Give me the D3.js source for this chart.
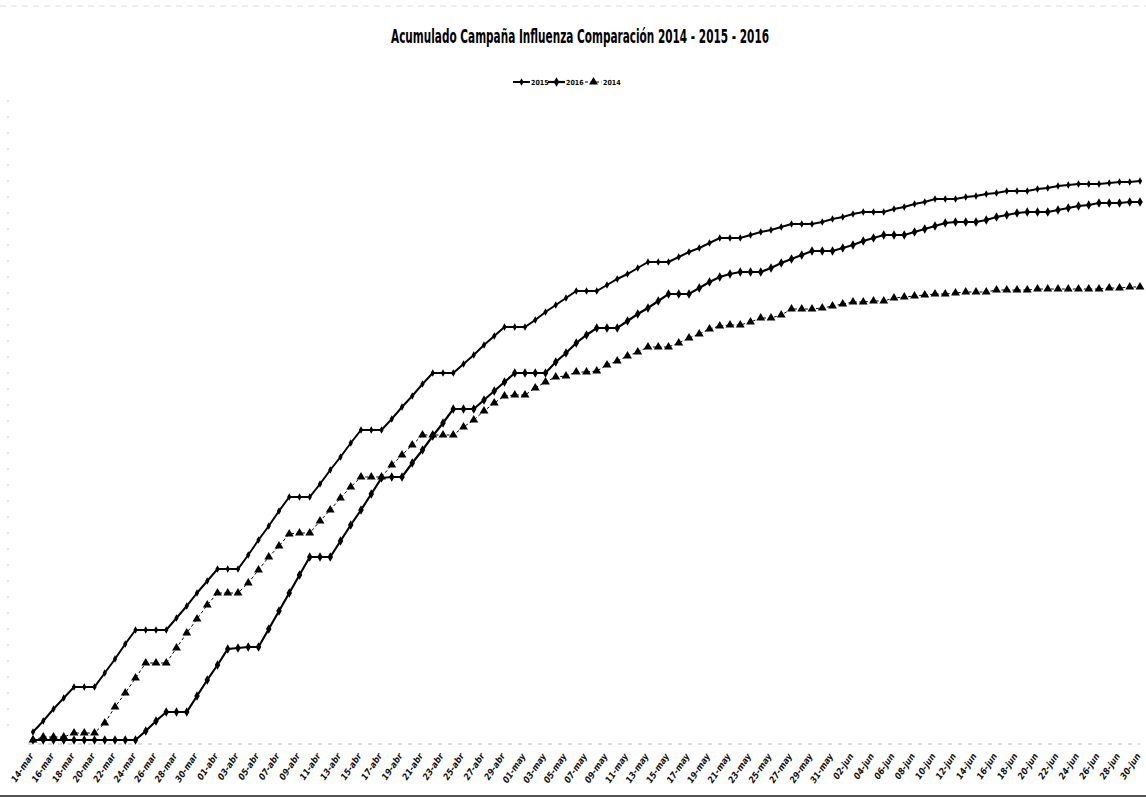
<!DOCTYPE html>
<html>
<head>
<meta charset="utf-8">
<script src="https://cdnjs.cloudflare.com/ajax/libs/d3/7.8.5/d3.min.js"></script>
<style>
  body { margin: 0; background: #fff; }
  svg { display: block; }
</style>
</head>
<body>
<div id="viz"></div>
<script>
// Acumulado diario, 14-mar a 30-jun (109 dias)
const serie2015 = [8, 19, 31, 42, 53, 53, 53, 67, 81, 96,
  110, 110, 110, 110, 122, 134, 147, 159, 171, 171,
  171, 185, 200, 214, 229, 243, 243, 243, 256, 270,
  283, 297, 310, 310, 310, 321, 333, 344, 356, 367,
  367, 367, 376, 385, 395, 404, 413, 413, 413, 420,
  428, 435, 442, 449, 449, 449, 455, 461, 466, 472,
  478, 478, 478, 483, 488, 492, 497, 502, 502, 502,
  505, 508, 510, 513, 516, 516, 516, 518, 521, 523,
  526, 528, 528, 528, 531, 533, 536, 538, 541, 541,
  541, 543, 544, 546, 547, 549, 549, 549, 551, 552,
  554, 555, 556, 556, 556, 557, 558, 558, 559];

const serie2016 = [0, 0, 0, 0, 0, 0, 0, 0, 0, 0,
  0, 9, 19, 28, 28, 28, 44, 60, 75, 91,
  92, 93, 93, 111, 129, 147, 165, 183, 183, 183,
  199, 215, 230, 246, 262, 263, 263, 277, 290, 304,
  317, 331, 331, 331, 340, 349, 358, 367, 367, 367,
  367, 378, 387, 397, 405, 412, 412, 412, 419, 426,
  432, 439, 446, 446, 446, 452, 458, 463, 466, 468,
  468, 468, 472, 477, 481, 485, 489, 489, 489, 492,
  495, 499, 502, 505, 505, 505, 508, 511, 514, 517,
  518, 518, 518, 520, 523, 525, 527, 528, 528, 528,
  530, 532, 534, 535, 537, 537, 537, 538, 538];

const serie2014 = [0, 3, 3, 3, 7, 7, 7, 17, 33, 47,
  62, 77, 77, 77, 92, 107, 121, 135, 147, 147,
  147, 157, 170, 183, 194, 206, 207, 207, 219, 230,
  242, 253, 263, 263, 263, 275, 285, 295, 305, 305,
  305, 305, 313, 320, 329, 337, 344, 345, 345, 352,
  358, 363, 364, 368, 368, 369, 375, 379, 384, 388,
  393, 393, 393, 397, 402, 406, 411, 414, 415, 415,
  418, 422, 422, 425, 431, 431, 431, 432, 434, 436,
  438, 438, 439, 439, 442, 443, 444, 445, 446, 446,
  447, 448, 448, 448, 450, 450, 450, 450, 451, 451,
  451, 451, 451, 451, 451, 452, 452, 453, 453];

// etiquetas del eje x, una cada 2 dias
const tickLabels = ["14-mar", "16-mar", "18-mar", "20-mar", "22-mar", "24-mar", "26-mar", "28-mar", "30-mar",
  "01-abr", "03-abr", "05-abr", "07-abr", "09-abr", "11-abr", "13-abr", "15-abr", "17-abr", "19-abr",
  "21-abr", "23-abr", "25-abr", "27-abr", "29-abr",
  "01-may", "03-may", "05-may", "07-may", "09-may", "11-may", "13-may", "15-may", "17-may", "19-may",
  "21-may", "23-may", "25-may", "27-may", "29-may", "31-may",
  "02-jun", "04-jun", "06-jun", "08-jun", "10-jun", "12-jun", "14-jun", "16-jun", "18-jun", "20-jun",
  "22-jun", "24-jun", "26-jun", "28-jun", "30-jun"];

const seriesNames = ["2015", "2016", "2014"];
const seriesData = [serie2015, serie2016, serie2014];

const w = 1146;
const h = 799;

const svg = d3.select('#viz').
append('svg').
attr('width', w).
attr('height', h);

const nDays = serie2015.length;

const x = d3.scaleLinear().
domain([0, nDays - 1]).
range([33, 1140]);

const y = d3.scaleLinear().
domain([0, 600]).
range([740, 140]);

// estilos por serie
const styles = {
  "2015": { width: 2, dash: null, symbol: d3.symbolDiamond, size: 16 },
  "2016": { width: 2.2, dash: null, symbol: d3.symbolDiamond, size: 26 },
  "2014": { width: 1, dash: "3,2.5", symbol: d3.symbolTriangle, size: 34 }
};

// marco tenue del fax
svg.append('line').
attr('x1', 0).attr('x2', w).
attr('y1', 6).attr('y2', 6).
style('stroke', '#ddd').
style('stroke-dasharray', '6,5').
style('stroke-width', 1);

svg.append('line').
attr('x1', 8).attr('x2', 8).
attr('y1', 100).attr('y2', 740).
style('stroke', '#ccc').
style('stroke-dasharray', '2,14').
style('stroke-width', 1);

svg.append('line').
attr('x1', 0).attr('x2', w).
attr('y1', 796).attr('y2', 796).
style('stroke', '#555').
style('stroke-width', 2);

// eje x: linea gris punteada y etiquetas inclinadas
svg.append('line').
attr('x1', x(0) - 5).attr('x2', x(nDays - 1)).
attr('y1', y(0) + 4).attr('y2', y(0) + 4).
style('stroke', '#bbb').
style('stroke-dasharray', '4,6').
style('stroke-width', 1);

const xAxis = svg.append('g').attr('class', 'x-labels');
xAxis.selectAll('text').
data(tickLabels).
enter().
append('text').
attr('transform', (d, i) => 'translate(' + (x(i * 2) + 1) + ',' + (y(0) + 16) + ') rotate(-56)').
attr('text-anchor', 'end').
style('font-family', '"Liberation Sans Narrow", "DejaVu Sans Condensed", sans-serif').
style('font-style', 'italic').
style('font-weight', 'bold').
style('font-size', '9px').
style('fill', '#111').
text(d => d);

// lineas
const line = d3.line().
x((d, i) => x(i)).
y(d => y(d));

seriesNames.forEach((name, k) => {
  const st = styles[name];
  const g = svg.append('g').attr('class', 'serie-' + name);
  g.append('path').
  datum(seriesData[k]).
  attr('d', line).
  style('fill', 'none').
  style('stroke', '#000').
  style('stroke-width', st.width).
  style('stroke-dasharray', st.dash);

  g.selectAll('path.marker').
  data(seriesData[k]).
  enter().
  append('path').
  attr('class', 'marker').
  attr('d', d3.symbol().type(st.symbol).size(st.size)).
  attr('transform', (d, i) => 'translate(' + x(i) + ',' + y(d) + ')').
  style('fill', '#000');
});

// titulo
svg.append('text').
attr('x', 580).
attr('y', 43).
attr('text-anchor', 'middle').
attr('textLength', 378).
attr('lengthAdjust', 'spacingAndGlyphs').
style('font-family', '"Liberation Sans Narrow", "DejaVu Sans Condensed", sans-serif').
style('font-weight', 'bold').
style('font-size', '19px').
style('fill', '#000').
text('Acumulado Campaña Influenza Comparación 2014 - 2015 - 2016');

// leyenda
const legend = svg.append('g').attr('id', 'legend');
const legendX = [513, 548, 585];
seriesNames.forEach((name, k) => {
  const st = styles[name];
  const lx = legendX[k];
  legend.append('line').
  attr('x1', lx).attr('x2', lx + 17).
  attr('y1', 82).attr('y2', 82).
  style('stroke', '#000').
  style('stroke-width', st.width).
  style('stroke-dasharray', st.dash);
  legend.append('path').
  attr('d', d3.symbol().type(st.symbol).size(st.size)).
  attr('transform', 'translate(' + (lx + 8.5) + ',82)').
  style('fill', '#000');
  legend.append('text').
  attr('x', lx + 18).
  attr('y', 84.5).
  style('font-family', '"Liberation Sans Narrow", "DejaVu Sans Condensed", sans-serif').
  style('font-size', '7px').
  style('font-weight', 'bold').
  style('fill', '#000').
  text(name);
});
</script>
</body>
</html>
